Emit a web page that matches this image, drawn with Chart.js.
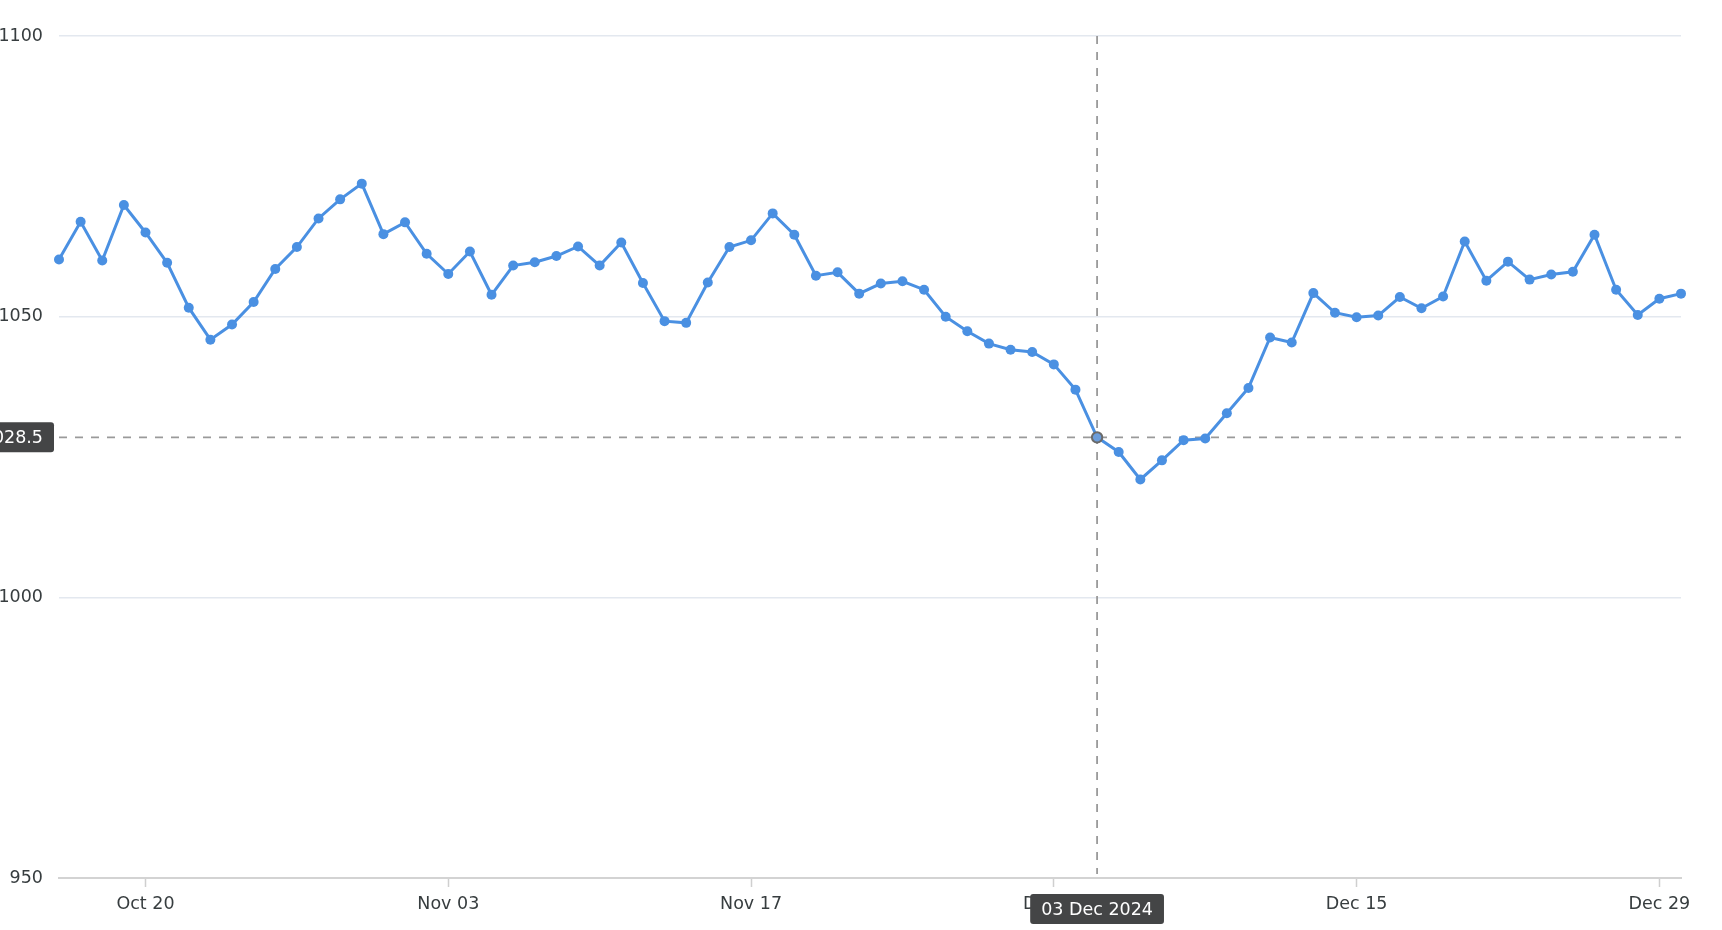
<!DOCTYPE html>
<html>
<head>
<meta charset="utf-8">
<script src="https://cdn.jsdelivr.net/npm/chart.js@4.4.0/dist/chart.umd.min.js"></script>
<style>
  html, body { margin: 0; padding: 0; background: #fff; }
  #wrap { width: 1722px; height: 930px; position: relative; }
</style>
</head>
<body>
<div id="wrap"><canvas id="prix"></canvas></div>
<script>
// dates (one point per day)
const dates = [
    '16 Oct 2024', '17 Oct 2024', '18 Oct 2024', '19 Oct 2024', '20 Oct 2024', '21 Oct 2024', '22 Oct 2024', '23 Oct 2024',
    '24 Oct 2024', '25 Oct 2024', '26 Oct 2024', '27 Oct 2024', '28 Oct 2024', '29 Oct 2024', '30 Oct 2024', '31 Oct 2024',
    '01 Nov 2024', '02 Nov 2024', '03 Nov 2024', '04 Nov 2024', '05 Nov 2024', '06 Nov 2024', '07 Nov 2024', '08 Nov 2024',
    '09 Nov 2024', '10 Nov 2024', '11 Nov 2024', '12 Nov 2024', '13 Nov 2024', '14 Nov 2024', '15 Nov 2024', '16 Nov 2024',
    '17 Nov 2024', '18 Nov 2024', '19 Nov 2024', '20 Nov 2024', '21 Nov 2024', '22 Nov 2024', '23 Nov 2024', '24 Nov 2024',
    '25 Nov 2024', '26 Nov 2024', '27 Nov 2024', '28 Nov 2024', '29 Nov 2024', '30 Nov 2024',
    '01 Dec 2024', '02 Dec 2024', '03 Dec 2024', '04 Dec 2024', '05 Dec 2024', '06 Dec 2024', '07 Dec 2024', '08 Dec 2024',
    '09 Dec 2024', '10 Dec 2024', '11 Dec 2024', '12 Dec 2024', '13 Dec 2024', '14 Dec 2024', '15 Dec 2024', '16 Dec 2024',
    '17 Dec 2024', '18 Dec 2024', '19 Dec 2024', '20 Dec 2024', '21 Dec 2024', '22 Dec 2024', '23 Dec 2024', '24 Dec 2024',
    '25 Dec 2024', '26 Dec 2024', '27 Dec 2024', '28 Dec 2024', '29 Dec 2024', '30 Dec 2024'
];

const values = [
    1060.2, 1066.9, 1060.0, 1069.9, 1065.0, 1059.6, 1051.6, 1045.9,
    1048.6, 1052.6, 1058.5, 1062.4, 1067.5, 1070.9, 1073.7, 1064.7,
    1066.8, 1061.2, 1057.6, 1061.6, 1053.9, 1059.1, 1059.7, 1060.8,
    1062.5, 1059.1, 1063.2, 1056.0, 1049.2, 1048.9, 1056.1, 1062.4,
    1063.6, 1068.4, 1064.6, 1057.3, 1057.9, 1054.1, 1055.9, 1056.3,
    1054.8, 1050.0, 1047.4, 1045.2, 1044.1, 1043.7,
    1041.5, 1037.0, 1028.5, 1025.9, 1021.0, 1024.4, 1028.0, 1028.3,
    1032.8, 1037.3, 1046.3, 1045.4, 1054.2, 1050.7, 1049.9, 1050.2,
    1053.5, 1051.5, 1053.6, 1063.4, 1056.4, 1059.8, 1056.6, 1057.5,
    1058.0, 1064.6, 1054.8, 1050.3, 1053.2, 1054.1
];

// dates that carry an x label
const tickDates = ['20 Oct 2024', '03 Nov 2024', '17 Nov 2024', '01 Dec 2024', '15 Dec 2024', '29 Dec 2024'];
const yTicks = [950, 1000, 1050, 1100];

// point under the mouse
const hoverDate = '03 Dec 2024';
const hoverIndex = dates.indexOf(hoverDate);

const lineColor = '#4a90e2';
const textColor = '#373d3f';
const fontFamily = '"DejaVu Sans", Verdana, sans-serif';

function shortLabel(d) {
    const parts = d.split(' ');
    return parts[1] + ' ' + parts[0];
}

function drawBox(ctx, text, x, y, align) {
    ctx.font = '17.5px ' + fontFamily;
    const w = ctx.measureText(text).width + 22;
    const h = 30;
    const left = align === 'right' ? x - w : x - w / 2;
    ctx.fillStyle = '#444546';
    ctx.beginPath();
    ctx.roundRect(left, y - h / 2, w, h, 3);
    ctx.fill();
    ctx.fillStyle = '#ffffff';
    ctx.textAlign = 'center';
    ctx.textBaseline = 'middle';
    ctx.fillText(text, left + w / 2, y + 1);
}

const crosshair = {
    id: 'crosshair',
    beforeDatasetsDraw(chart) {
        const { ctx, chartArea, scales } = chart;
        const x = scales.x.getPixelForValue(hoverIndex);
        const y = scales.y.getPixelForValue(values[hoverIndex]);
        ctx.save();
        ctx.strokeStyle = '#9a9a9a';
        ctx.lineWidth = 1.8;
        ctx.setLineDash([8, 8]);
        ctx.beginPath();
        ctx.moveTo(x, chartArea.top);
        ctx.lineTo(x, chartArea.bottom - 4);
        ctx.moveTo(chartArea.left, y);
        ctx.lineTo(chartArea.right, y);
        ctx.stroke();
        ctx.restore();
    },
    afterDraw(chart) {
        const { ctx, chartArea, scales } = chart;
        const x = scales.x.getPixelForValue(hoverIndex);
        const y = scales.y.getPixelForValue(values[hoverIndex]);
        ctx.save();
        drawBox(ctx, values[hoverIndex].toFixed(1), chartArea.left - 5, y, 'right');
        drawBox(ctx, hoverDate, x, chartArea.bottom + 31, 'center');
        ctx.restore();
    }
};

new Chart(document.getElementById('prix').getContext('2d'), {
    type: 'line',
    data: {
        labels: dates,
        datasets: [{
            data: values,
            borderColor: lineColor,
            backgroundColor: lineColor,
            borderWidth: 3,
            tension: 0,
            pointRadius: ctx => ctx.dataIndex === hoverIndex ? 5.2 : 5,
            pointBackgroundColor: ctx => ctx.dataIndex === hoverIndex ? '#6b9ddb' : lineColor,
            pointBorderColor: ctx => ctx.dataIndex === hoverIndex ? '#6a6a6a' : lineColor,
            pointBorderWidth: ctx => ctx.dataIndex === hoverIndex ? 2 : 0
        }]
    },
    options: {
        responsive: true,
        maintainAspectRatio: false,
        animation: false,
        events: [],
        layout: { padding: { top: 36, right: 41, left: 0, bottom: 0 } },
        plugins: { legend: { display: false }, tooltip: { enabled: false } },
        scales: {
            x: {
                afterFit: scale => { scale.height = 52; },
                grid: {
                    drawOnChartArea: false,
                    drawTicks: true,
                    tickLength: 9,
                    tickWidth: 1.5,
                    tickColor: ctx => tickDates.includes(dates[ctx.index]) ? '#cfcfcf' : 'rgba(0,0,0,0)'
                },
                border: { display: true, color: '#d3d3d3', width: 2 },
                ticks: {
                    autoSkip: false,
                    maxRotation: 0,
                    padding: 7,
                    color: textColor,
                    font: { family: fontFamily, size: 17.5 },
                    callback: (value, index) => tickDates.includes(dates[index]) ? shortLabel(dates[index]) : ''
                }
            },
            y: {
                min: yTicks[0],
                max: yTicks[yTicks.length - 1],
                afterFit: scale => { scale.width = 59; },
                afterBuildTicks: scale => { scale.ticks = yTicks.map(v => ({ value: v })); },
                grid: { color: '#e3e8ef', lineWidth: 1.5, drawTicks: false },
                border: { display: false },
                ticks: {
                    padding: 16,
                    color: textColor,
                    font: { family: fontFamily, size: 17.5 },
                    callback: value => String(value)
                }
            }
        }
    },
    plugins: [crosshair]
});
</script>
</body>
</html>
